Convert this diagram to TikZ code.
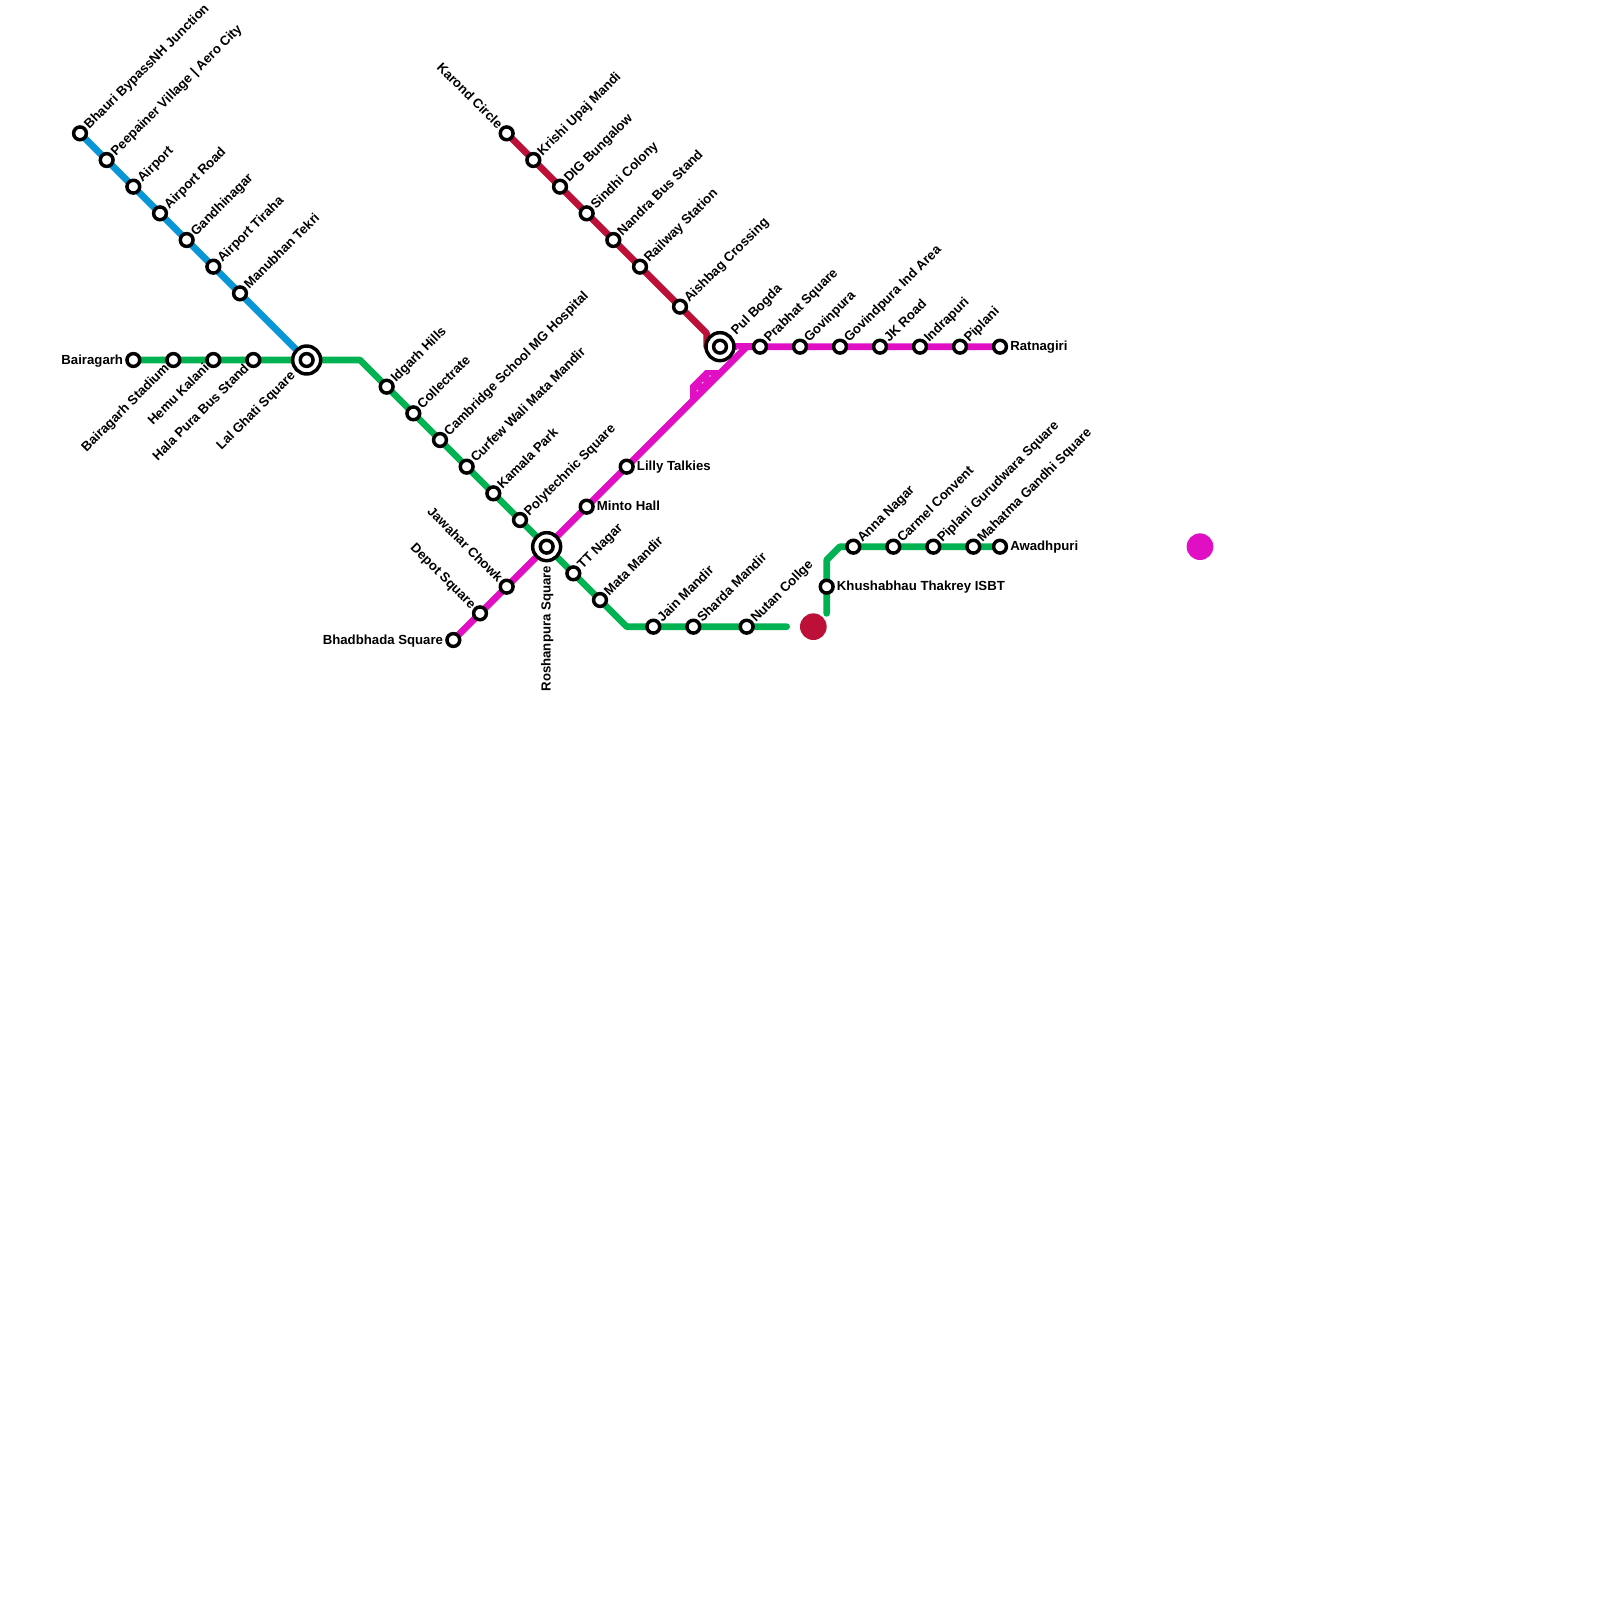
\documentclass[tikz,border=0pt]{standalone}
\usepackage{fontspec}
\setmainfont{Liberation Sans}
\pgfdeclarelayer{lines}
\pgfsetlayers{lines,main}
\definecolor{lblue}{HTML}{0896D7}
\definecolor{lgreen}{HTML}{00B251}
\definecolor{lred}{HTML}{BD1038}
\definecolor{lmag}{HTML}{E00FC4}
\tikzset{
  route/.style={line width=5pt,line cap=round,line join=round},
  stationdot/.style={circle,draw=black,fill=white,line width=2.6pt,minimum size=9.6pt,inner sep=0pt},
  hubring/.style={circle,draw=black,fill=white,line width=2.6pt,minimum size=21pt,inner sep=0pt},
  lbl/.style={font=\bfseries\fontsize{9.9pt}{11pt}\selectfont,inner ysep=0pt,inner xsep=7.5pt,text height=6pt,text depth=0pt},
  lne/.style={lbl,anchor=west,rotate=45,inner xsep=6.75pt},
  le/.style={lbl,anchor=west},
  lw/.style={lbl,anchor=east},
  lsw/.style={lbl,anchor=east,rotate=45,inner xsep=6.75pt},
  lnw/.style={lbl,anchor=east,rotate=-45,inner xsep=6.75pt},
  hubfar/.style={inner xsep=14.25pt},
  dotfill/.style={circle,inner sep=0pt,minimum size=20pt},
  speck/.style={circle,fill=white,fill opacity=0.75,inner sep=0pt,minimum size=1.4pt}
}
\newcommand{\stn}[5]{\node[stationdot] (#1) at (#2,#3) {}; \node[#4] (#1-l) at (#1.center) {#5};}
\newcommand{\hub}[5]{\node[hubring] (#1-o) at (#2,#3) {}; \node[stationdot] (#1) at (#2,#3) {}; \node[#4,hubfar] (#1-l) at (#1.center) {#5};}
\begin{document}
\begin{tikzpicture}[x=10pt,y=-10pt]
\useasboundingbox (0,0) rectangle (120,120);
% blue
\stn{b1}{6}{10}{lne}{Bhauri BypassNH Junction}
\stn{b2}{8}{12}{lne}{Peepainer Village | Aero City}
\stn{b3}{10}{14}{lne}{Airport}
\stn{b4}{12}{16}{lne}{Airport Road}
\stn{b5}{14}{18}{lne}{Gandhinagar}
\stn{b6}{16}{20}{lne}{Airport Tiraha}
\stn{b7}{18}{22}{lne}{Manubhan Tekri}
% green west
\stn{g1}{10}{27}{lw}{Bairagarh}
\stn{g2}{13}{27}{lsw}{Bairagarh Stadium}
\stn{g3}{16}{27}{lsw}{Hemu Kalani}
\stn{g4}{19}{27}{lsw}{Hala Pura Bus Stand}
\hub{lal}{23}{27}{lsw}{Lal Ghati Square}
\coordinate (gb1) at (27,27);
\stn{g5}{29}{29}{lne}{Idgarh Hills}
\stn{g6}{31}{31}{lne}{Collectrate}
\stn{g7}{33}{33}{lne}{Cambridge School MG Hospital}
\stn{g8}{35}{35}{lne}{Curfew Wali Mata Mandir}
\stn{g9}{37}{37}{lne}{Kamala Park}
\stn{g10}{39}{39}{lne}{Polytechnic Square}
\hub{rosh}{41}{41}{lbl,anchor=east,rotate=90}{Roshanpura Square}
\stn{g11}{43}{43}{lne}{TT Nagar}
\stn{g12}{45}{45}{lne}{Mata Mandir}
\coordinate (gb2) at (47,47);
\stn{g13}{49}{47}{lne}{Jain Mandir}
\stn{g14}{52}{47}{lne}{Sharda Mandir}
\stn{g15}{56}{47}{lne}{Nutan Collge}
\coordinate (gend1) at (59,47);
\coordinate (gend2) at (62,46);
\stn{g16}{62}{44}{le}{Khushabhau Thakrey ISBT}
\coordinate (gb3) at (62,42);
\coordinate (gb4) at (63,41);
\stn{g17}{64}{41}{lne}{Anna Nagar}
\stn{g18}{67}{41}{lne}{Carmel Convent}
\stn{g19}{70}{41}{lne}{Piplani Gurudwara Square}
\stn{g20}{73}{41}{lne}{Mahatma Gandhi Square}
\stn{g21}{75}{41}{le}{Awadhpuri}
% red
\stn{r1}{38}{10}{lnw}{Karond Circle}
\stn{r2}{40}{12}{lne}{Krishi Upaj Mandi}
\stn{r3}{42}{14}{lne}{DIG Bungalow}
\stn{r4}{44}{16}{lne}{Sindhi Colony}
\stn{r5}{46}{18}{lne}{Nandra Bus Stand}
\stn{r6}{48}{20}{lne}{Railway Station}
\stn{r7}{51}{23}{lne}{Aishbag Crossing}
\coordinate (rb) at (53,25);
\coordinate (rend) at (53,26);
% magenta
\stn{m1}{34}{48}{lw}{Bhadbhada Square}
\stn{m2}{36}{46}{lnw}{Depot Square}
\stn{m3}{38}{44}{lnw}{Jawahar Chowk}
\stn{m4}{44}{38}{le}{Minto Hall}
\stn{m5}{47}{35}{le}{Lilly Talkies}
\coordinate (mb) at (56,26);
\hub{pul}{54}{26}{lne}{Pul Bogda}
\stn{m6}{57}{26}{lne}{Prabhat Square}
\stn{m7}{60}{26}{lne}{Govinpura}
\stn{m8}{63}{26}{lne}{Govindpura Ind Area}
\stn{m9}{66}{26}{lne}{JK Road}
\stn{m10}{69}{26}{lne}{Indrapuri}
\stn{m11}{72}{26}{lne}{Piplani}
\stn{m12}{75}{26}{le}{Ratnagiri}
% isolated discs
\node[dotfill,fill=lred] (dotred) at (61,47) {};
\node[dotfill,fill=lmag] (dotmag) at (90,41) {};
\begin{pgfonlayer}{lines}
\fill[white] (0,0) rectangle (120,120);
\draw[route,lblue] (b1.center)--(b2.center)--(b3.center)--(b4.center)--(b5.center)--(b6.center)--(b7.center)--(lal.center);
\draw[route,lgreen] (g1.center)--(g2.center)--(g3.center)--(g4.center)--(lal.center)--(gb1)--(g5.center)--(g6.center)--(g7.center)--(g8.center)--(g9.center)--(g10.center)--(rosh.center)--(g11.center)--(g12.center)--(gb2)--(g13.center)--(g14.center)--(g15.center)--(gend1);
\draw[route,lgreen] (gend2)--(g16.center)--(gb3)--(gb4)--(g17.center)--(g18.center)--(g19.center)--(g20.center)--(g21.center);
\draw[route,lred] (r1.center)--(r2.center)--(r3.center)--(r4.center)--(r5.center)--(r6.center)--(r7.center)--(rb)--(rend);
\draw[route,lmag] (m1.center)--(m2.center)--(m3.center)--(rosh.center)--(m4.center)--(m5.center)--(mb)--(m6.center)--(m7.center)--(m8.center)--(m9.center)--(m10.center)--(m11.center)--(m12.center);
\draw[route,lmag] (pul.center)--(m6.center);
\draw[line width=5pt,line join=miter,miter limit=10,lmag,fill=lmag] (52,29.7)--(52,29)--(53,28)--(53.7,28)--cycle;
\node[speck] (sp1) at (53.25,28.2) {};
\node[speck] (sp2) at (52.7,28.7) {};
\node[speck] (sp3) at (52.3,29.3) {};
\node[speck] (sp4) at (55.35,26.2) {};
\end{pgfonlayer}
\end{tikzpicture}
\end{document}
